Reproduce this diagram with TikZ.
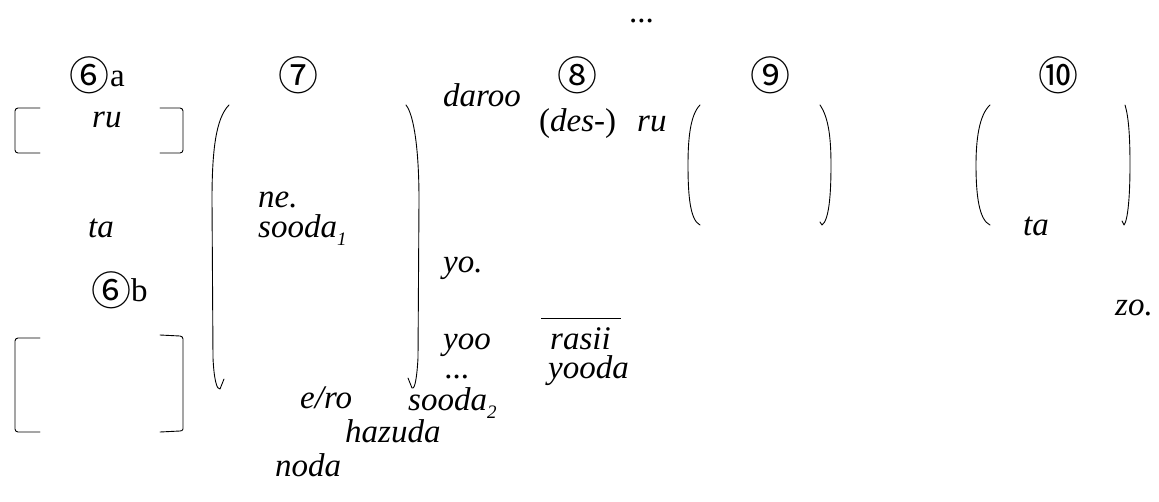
\documentclass[tikz,border=0pt]{standalone}
\usepackage{fontspec}
\setmainfont{Liberation Serif}
\newfontfamily\circfont{Noto Sans CJK JP}
\tikzset{
  lbl/.style={anchor=base west, inner sep=0pt, font=\fontsize{33}{33}\selectfont\itshape},
  up/.style={anchor=base west, inner sep=0pt, font=\fontsize{33}{33}\selectfont},
  num/.style={anchor=center, inner sep=0pt, font=\fontsize{40}{40}\selectfont\circfont},
  brk/.style={line width=0.9pt, line cap=round, line join=round}
}
\newcommand{\subidx}[1]{\raisebox{-0.25em}{\fontsize{19}{19}\selectfont #1}}
\begin{document}
\begin{tikzpicture}[x=1pt,y=-1pt]
\useasboundingbox (0,0) rectangle (1159,501);
% top ellipsis
\node[up] (topdots) at (629,22) {...};
% circled headings
\node[num] (h6a) at (89,75) {⑥};
\node[up] (h6aL) at (110,86) {a};
\node[num] (h7) at (298,75) {⑦};
\node[num] (h8) at (577,75) {⑧};
\node[num] (h9) at (770,75) {⑨};
\node[num] (h10) at (1058,75) {⑩};
\node[num] (h6b) at (111,290) {⑥};
\node[up] (h6bL) at (131,301) {b};
% brackets 6a
\draw[brk] (40,108) -- (18,108) to[out=180,in=90] (15,111) -- (15,150) to[out=-90,in=180] (18,153) -- (40,153);
\draw[brk] (160,108) -- (180,108) to[out=0,in=90] (183,111) -- (183,150) to[out=-90,in=0] (180,153) -- (160,153);
% brackets 6b
\draw[brk] (40,338) -- (18,338) to[out=180,in=90] (15,341) -- (15,429) to[out=-90,in=180] (18,432) -- (40,432);
\draw[brk] (160,335) -- (180,336) to[out=0,in=90] (183,339) -- (183,429) to[out=-90,in=0] (180,431) -- (160,432);
% big parens 7
\draw[brk] (229,105) .. controls (216,118) and (212,150) .. (212,200) -- (213,358) .. controls (214,380) and (217,390) .. (220,389) -- (224,379);
\draw[brk] (406,105) .. controls (414,115) and (419,150) .. (419,200) -- (418,358) .. controls (417,376) and (415,390) .. (412,388) -- (408,378);
% parens 9
\draw[brk] (700,105) .. controls (690,115) and (688,140) .. (688,165) .. controls (688,195) and (690,220) .. (700,225);
\draw[brk] (820,105) .. controls (829,118) and (831,140) .. (831,165) .. controls (831,195) and (829,220) .. (822,225) -- (820,222);
% parens 10
\draw[brk] (990,105) .. controls (979,115) and (976,140) .. (976,165) .. controls (976,195) and (979,220) .. (990,225);
\draw[brk] (1125,105) .. controls (1129,118) and (1130,140) .. (1130,165) .. controls (1130,195) and (1128,220) .. (1124,225) -- (1122,221);
% texts
\node[lbl] (ru1) at (92,127) {ru};
\node[lbl] (ta1) at (88,237) {ta};
\node[lbl] (ne) at (258,207) {ne.};
\node[lbl] (sooda1) at (258,237) {sooda\subidx{1}};
\node[lbl] (daroo) at (443,106) {daroo};
\node[lbl] (yo) at (443,272) {yo.};
\node[lbl] (yoo) at (443,349) {yoo};
\node[lbl] (dots) at (445,378) {...};
\node[lbl] (ero) at (300,408) {e/ro};
\node[lbl] (sooda2) at (408,410) {sooda\subidx{2}};
\node[lbl] (hazuda) at (345,442) {hazuda};
\node[lbl] (noda) at (275,476) {noda};
\node[up] (des) at (539,131) {(\textit{des}-)};
\node[lbl] (ru2) at (637,131) {ru};
\coordinate (ovl) at (541,318);
\coordinate (ovr) at (621,318);
\draw[line width=0.9pt] (ovl) -- (ovr);
\node[lbl] (rasii) at (550,349) {rasii};
\node[lbl] (yooda) at (548,378) {yooda};
\node[lbl] (ta2) at (1023,235) {ta};
\node[lbl] (zo) at (1115,315) {zo.};
\end{tikzpicture}
\end{document}
